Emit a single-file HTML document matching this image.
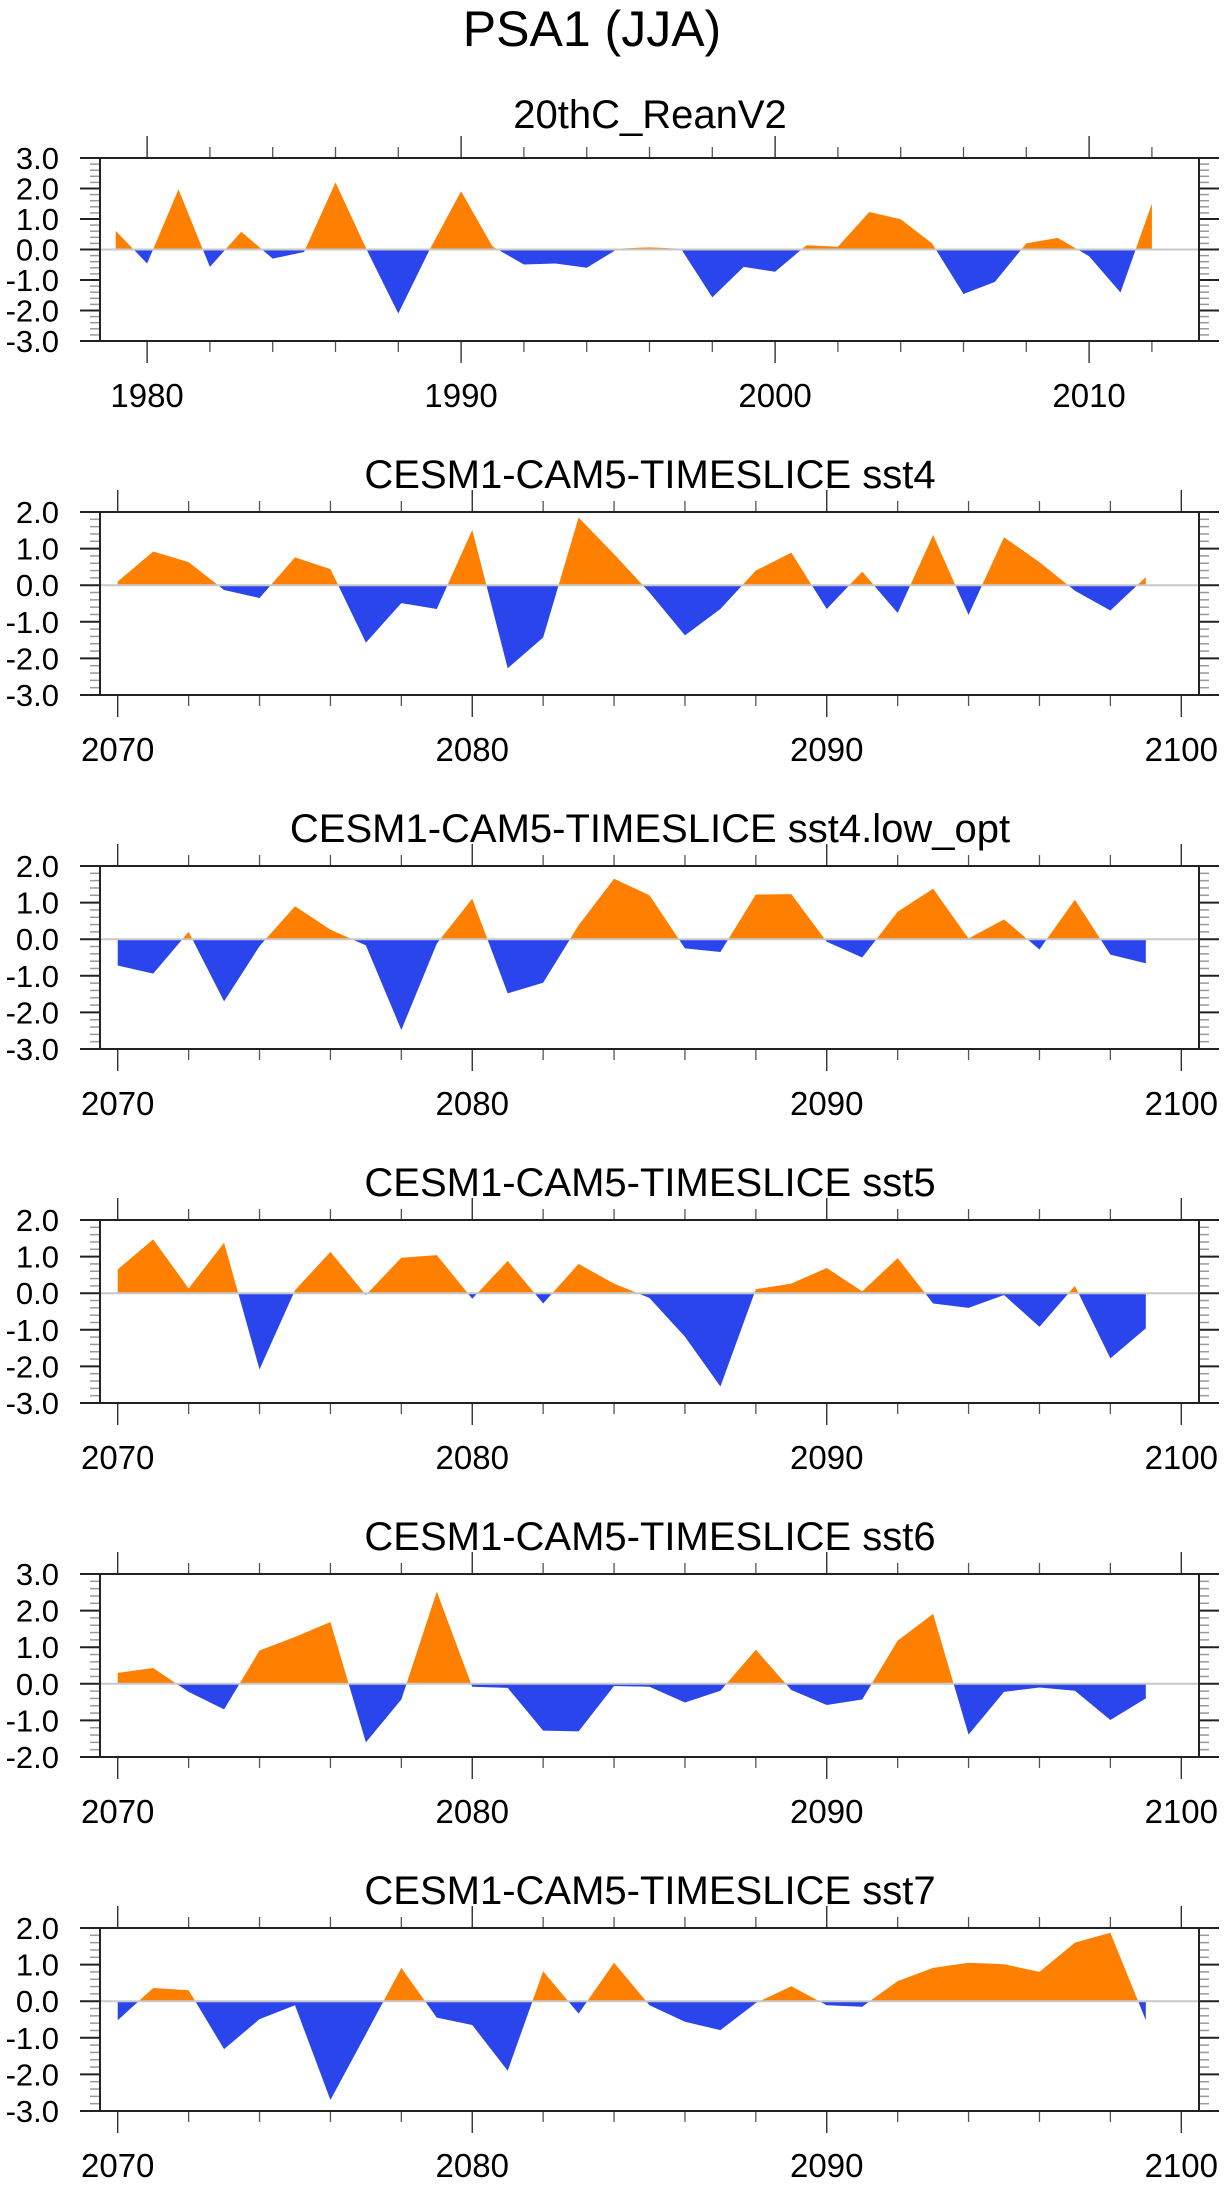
<!DOCTYPE html>
<html><head><meta charset="utf-8">
<style>
html,body{margin:0;padding:0;background:#fff;}
svg{display:block;font-family:"Liberation Sans",Arial,sans-serif;}
</style></head>
<body>
<svg id="chart" width="1229" height="2185" viewBox="0 0 1229 2185" xmlns="http://www.w3.org/2000/svg">
<text x="592" y="46" font-size="50" text-anchor="middle" fill="#000">PSA1 (JJA)</text>
</svg>
<script>
const titles = ["20thC_ReanV2","CESM1-CAM5-TIMESLICE sst4","CESM1-CAM5-TIMESLICE sst4.low_opt","CESM1-CAM5-TIMESLICE sst5","CESM1-CAM5-TIMESLICE sst6","CESM1-CAM5-TIMESLICE sst7"];
const startYears = [1979,2070,2070,2070,2070,2070];
const xRanges = [[1978.5,2013.5],[2069.5,2100.5],[2069.5,2100.5],[2069.5,2100.5],[2069.5,2100.5],[2069.5,2100.5]];
const yRanges = [[-3,3],[-3,2],[-3,2],[-3,2],[-2,3],[-3,2]];
const xTickLabels = [[1980,1990,2000,2010],[2070,2080,2090,2100],[2070,2080,2090,2100],[2070,2080,2090,2100],[2070,2080,2090,2100],[2070,2080,2090,2100]];
const seriesRean = [0.61,-0.46,1.97,-0.57,0.58,-0.3,-0.08,2.2,-0.02,-2.1,0.0,1.91,0.1,-0.49,-0.46,-0.6,0.03,0.07,0.03,-1.57,-0.57,-0.73,0.14,0.09,1.23,0.99,0.2,-1.46,-1.06,0.2,0.38,-0.22,-1.41,1.51];
const seriesSst4 = [0.1,0.92,0.63,-0.13,-0.35,0.76,0.44,-1.57,-0.49,-0.65,1.51,-2.27,-1.43,1.85,0.85,-0.2,-1.37,-0.65,0.4,0.89,-0.65,0.37,-0.76,1.37,-0.81,1.31,0.63,-0.15,-0.69,0.22];
const seriesSst4Low = [-0.72,-0.94,0.2,-1.7,-0.19,0.9,0.26,-0.17,-2.48,-0.12,1.11,-1.48,-1.19,0.38,1.65,1.2,-0.25,-0.35,1.22,1.23,-0.07,-0.5,0.75,1.38,0.02,0.54,-0.28,1.08,-0.42,-0.66];
const seriesSst5 = [0.65,1.47,0.13,1.38,-2.08,0.08,1.13,-0.05,0.97,1.04,-0.15,0.88,-0.28,0.8,0.26,-0.13,-1.19,-2.55,0.11,0.26,0.69,0.05,0.96,-0.28,-0.4,-0.05,-0.92,0.2,-1.78,-0.96];
const seriesSst6 = [0.3,0.43,-0.22,-0.7,0.91,1.28,1.69,-1.6,-0.43,2.52,-0.08,-0.11,-1.28,-1.3,-0.06,-0.08,-0.51,-0.19,0.93,-0.17,-0.58,-0.43,1.18,1.91,-1.39,-0.22,-0.1,-0.19,-0.99,-0.4];
const seriesSst7 = [-0.52,0.36,0.3,-1.31,-0.49,-0.11,-2.7,-0.9,0.91,-0.45,-0.65,-1.9,0.82,-0.34,1.05,-0.11,-0.56,-0.79,-0.05,0.41,-0.11,-0.15,0.55,0.91,1.05,1.01,0.8,1.6,1.87,-0.52];
const allSeries = [seriesRean,seriesSst4,seriesSst4Low,seriesSst5,seriesSst6,seriesSst7];

const NS="http://www.w3.org/2000/svg";
const svg=document.getElementById('chart');
function mk(tag,attrs,parent){const e=document.createElementNS(NS,tag);for(const k in attrs)e.setAttribute(k,attrs[k]);(parent||svg).appendChild(e);return e;}
const L=100,R=1199,H=183;
const tops=[158,512,866,1220,1574,1928];
for(let p=0;p<6;p++){
  const T=tops[p],B=T+H;
  const [x0,x1]=xRanges[p],[y0,y1]=yRanges[p];
  const sx=v=>L+(v-x0)/(x1-x0)*(R-L);
  const sy=v=>B-(v-y0)/(y1-y0)*H;
  const g=mk('g',{});
  
  
  const st=mk('text',{x:650,y:T-(p===0?30:24),'font-size':40,'text-anchor':'middle',fill:'#000'},g);
  
  
  st.textContent=titles[p];
  const data=allSeries[p],sy0=startYears[p];
  const z=sy(0);
  let d='M'+sx(sy0)+','+z;
  data.forEach((v,i)=>{d+=' L'+sx(sy0+i)+','+sy(v);});
  d+=' L'+sx(sy0+data.length-1)+','+z+' Z';
  const cp1=mk('clipPath',{id:'pos'+p},g);mk('rect',{x:L,y:T,width:R-L,height:z-T},cp1);
  const cp2=mk('clipPath',{id:'neg'+p},g);mk('rect',{x:L,y:z,width:R-L,height:B-z},cp2);
  const a1=mk('path',{d:d,fill:'#ff8000','clip-path':'url(#pos'+p+')'},g);
  
  
  const a2=mk('path',{d:d,fill:'#2a45ec','clip-path':'url(#neg'+p+')'},g);
  
  
  const zl=mk('line',{x1:L,x2:R,y1:z,y2:z,stroke:'#c8c8c8','stroke-width':2},g);
  
  
  for(let yr=Math.ceil(x0);yr<=x1;yr++){
    if(yr%2!==0)continue;
    const major=yr%10===0,len=major?22:11,x=sx(yr);
    mk('line',{x1:x,x2:x,y1:T,y2:T-len,stroke:major?'#222':'#555','stroke-width':1.3},g);
    mk('line',{x1:x,x2:x,y1:B,y2:B+len,stroke:major?'#222':'#555','stroke-width':1.3},g);
  }
  xTickLabels[p].forEach(yr=>{
    const t=mk('text',{x:sx(yr),y:B+66,'font-size':33,'text-anchor':'middle',fill:'#000'},g);
    
    
    t.textContent=yr;
  });
  for(let k=Math.round(y0*5);k<=Math.round(y1*5);k++){
    const v=k/5,y=sy(v),major=k%5===0,len=major?20:10,c=major?'#222':'#999';
    mk('line',{x1:L,x2:L-len,y1:y,y2:y,stroke:c,'stroke-width':major?2:1.5},g);
    mk('line',{x1:R,x2:R+len,y1:y,y2:y,stroke:c,'stroke-width':major?2:1.5},g);
    if(major){
      const t=mk('text',{x:59,y:y+11,'font-size':31,'text-anchor':'end',fill:'#000'},g);
      
      
      t.textContent=v.toFixed(1);
    }
  }
  const fr=mk('rect',{x:L,y:T,width:R-L,height:H,fill:'none',stroke:'#222','stroke-width':2},g);
  
  
}
</script>
</body></html>
